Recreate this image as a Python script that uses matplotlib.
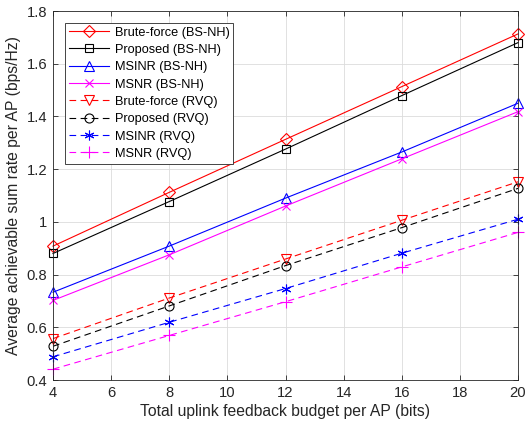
import matplotlib
matplotlib.use("Agg")
import matplotlib.pyplot as plt

plt.rcParams['font.family'] = ['Liberation Sans', 'DejaVu Sans']

bits = [4, 8, 12, 16, 20]
bf_bsnh = [0.908, 1.112, 1.313, 1.513, 1.713]
prop_bsnh = [0.880, 1.077, 1.276, 1.479, 1.680]
msinr_bsnh = [0.733, 0.908, 1.090, 1.265, 1.450]
msnr_bsnh = [0.702, 0.875, 1.060, 1.239, 1.418]
bf_rvq = [0.557, 0.711, 0.859, 1.006, 1.152]
prop_rvq = [0.528, 0.681, 0.834, 0.978, 1.127]
msinr_rvq = [0.488, 0.619, 0.747, 0.881, 1.010]
msnr_rvq = [0.441, 0.569, 0.697, 0.829, 0.960]

labels = ['Brute-force (BS-NH)', 'Proposed (BS-NH)', 'MSINR (BS-NH)', 'MSNR (BS-NH)',
          'Brute-force (RVQ)', 'Proposed (RVQ)', 'MSINR (RVQ)', 'MSNR (RVQ)']

fig = plt.figure(figsize=(5.25, 4.24), dpi=100)
ax = fig.add_axes([53/525, 1 - 380/424, 465/525, 369/424])

series = [bf_bsnh, prop_bsnh, msinr_bsnh, msnr_bsnh, bf_rvq, prop_rvq, msinr_rvq, msnr_rvq]
colors = ['red', 'black', 'blue', 'magenta'] * 2
markers = ['D', 's', '^', 'x', 'v', 'o', (6, 2, 0), '+']
msizes = [6, 5.5, 7, 6, 7, 6.5, 7, 8]
for i, (ys, lab) in enumerate(zip(series, labels)):
    ls = '-' if i < 4 else (0, (6, 4))
    mk = markers[i]
    kw = dict(markerfacecolor='none') if mk in ('D', 's', '^', 'v', 'o') else {}
    ax.plot(bits, ys, color=colors[i], linestyle=ls, linewidth=0.8, marker=mk,
            markersize=msizes[i], markeredgewidth=0.8,
            label=lab, clip_on=False, **kw)

ax.set_xlim(4, 20)
ax.set_ylim(0.4, 1.8)
ax.set_xticks([4, 6, 8, 10, 12, 14, 16, 18, 20])
ax.set_yticks([0.4, 0.6, 0.8, 1.0, 1.2, 1.4, 1.6, 1.8])
ax.set_yticklabels(['0.4', '0.6', '0.8', '1', '1.2', '1.4', '1.6', '1.8'])
ax.grid(True, color='#dcdcdc', linewidth=0.6)
ax.set_axisbelow(True)
ax.tick_params(direction='in', labelsize=10.6, colors='#262626', length=3.5, width=0.6,
               top=True, right=True, labelcolor='#262626', pad=4)
for s in ax.spines.values():
    s.set_linewidth(0.6)
    s.set_color('#262626')
ax.set_xlabel('Total uplink feedback budget per AP (bits)', fontsize=11.3, color='#262626',
              labelpad=3)
ax.set_ylabel('Average achievable sum rate per AP (bps/Hz)', fontsize=11.3, color='#262626',
              labelpad=4)

leg = ax.legend(loc='upper left', bbox_to_anchor=(12/465, 1 - 11.7/369), fontsize=9.15,
                handlelength=3.2, frameon=True, fancybox=False, edgecolor='#262626',
                framealpha=1, borderpad=0.3, labelspacing=0.42, handletextpad=0.4,
                borderaxespad=0)
leg.get_frame().set_linewidth(0.6)

fig.savefig('out.png', dpi=100)
